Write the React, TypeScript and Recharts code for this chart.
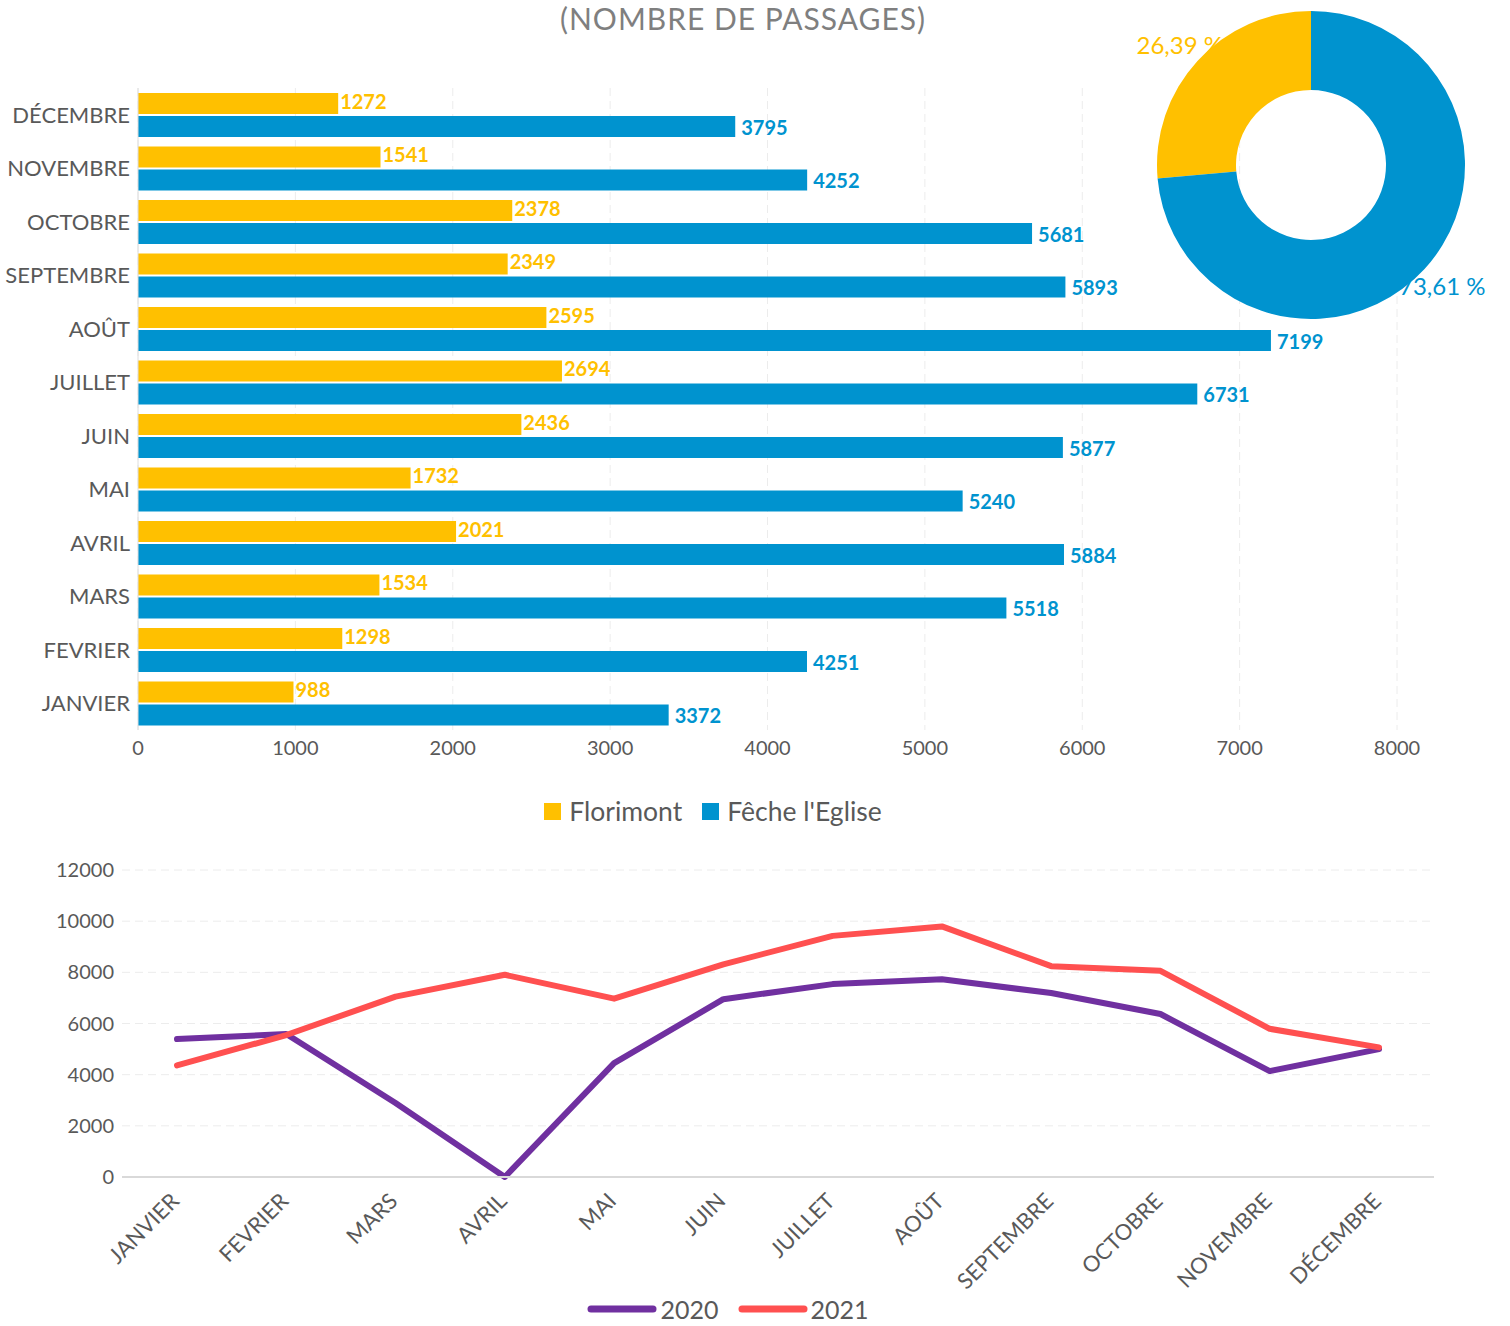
import React from 'react';
import {
  BarChart,
  Bar,
  XAxis,
  YAxis,
  CartesianGrid,
  LabelList,
  Legend,
  PieChart,
  Pie,
  Cell,
  LineChart,
  Line,
} from 'recharts';

const months = ['JANVIER', 'FEVRIER', 'MARS', 'AVRIL', 'MAI', 'JUIN', 'JUILLET', 'AOÛT', 'SEPTEMBRE', 'OCTOBRE', 'NOVEMBRE', 'DÉCEMBRE'];
const florimont = [988, 1298, 1534, 2021, 1732, 2436, 2694, 2595, 2349, 2378, 1541, 1272];
const feche = [3372, 4251, 5518, 5884, 5240, 5877, 6731, 7199, 5893, 5681, 4252, 3795];
const passages2020 = [5390, 5590, 2890, 0, 4450, 6950, 7540, 7730, 7190, 6370, 4140, 5000];
const passages2021 = [4360, 5549, 7052, 7905, 6972, 8313, 9425, 9794, 8242, 8059, 5793, 5067];
const sites = ['Florimont', "Fêche l'Eglise"];
const shares = [26.39, 73.61];
const shareLabels = ['26,39 %', '73,61 %'];
const years = ['2020', '2021'];
const barTicks = [0, 1000, 2000, 3000, 4000, 5000, 6000, 7000, 8000];
const lineTicks = [0, 2000, 4000, 6000, 8000, 10000, 12000];

const YELLOW = '#FFC000';
const BLUE = '#0093CF';
const PURPLE = '#7030A0';
const RED = '#FF5050';
const GREY = '#595959';
const GRID = '#ececec';
const FONT = "Lato, 'Open Sans', sans-serif";

const barData = months.map((m, i) => ({ month: m, florimont: florimont[i], feche: feche[i] }));
const lineData = months.map((m, i) => ({ month: m, y2020: passages2020[i], y2021: passages2021[i] }));
const pieData = sites.map((s, i) => ({ name: s, value: shares[i] }));
const siteColors = [YELLOW, BLUE];
const yearColors = [PURPLE, RED];

const SiteLegend = () => (
  <div style={{ display: 'flex', justifyContent: 'center', alignItems: 'center', height: 32 }}>
    {sites.map((s, i) => (
      <span key={s} style={{ display: 'flex', alignItems: 'center', marginRight: i === 0 ? 20 : 0 }}>
        <span style={{ width: 17, height: 17, background: siteColors[i], marginRight: 8 }} />
        <span style={{ fontSize: 26.5, color: GREY }}>{s}</span>
      </span>
    ))}
  </div>
);

const YearLegend = () => (
  <div style={{ display: 'flex', justifyContent: 'center', alignItems: 'center', height: 30 }}>
    {years.map((y, i) => (
      <span key={y} style={{ display: 'flex', alignItems: 'center', marginRight: i === 0 ? 18 : 0 }}>
        <svg width={72} height={12}>
          <line x1={5} y1={6} x2={67} y2={6} stroke={yearColors[i]} strokeWidth={7} strokeLinecap="round" />
        </svg>
        <span style={{ fontSize: 25, lineHeight: '30px', color: GREY, marginLeft: 2 }}>{y}</span>
      </span>
    ))}
  </div>
);

const RotatedTick = (props: any) => {
  const { x, y, payload } = props;
  return (
    <g transform={`translate(${x - 2},${y + 12})`}>
      <text x={0} y={0} dy="0.35em" textAnchor="end" transform="rotate(-45)" fill={GREY} fontSize={22}>
        {payload.value}
      </text>
    </g>
  );
};

const valueLabel = (color: string, gap: number, shift: number) => (props: any) => {
  const { x, y, width, height, value } = props;
  return (
    <text
      x={x + width + gap}
      y={y + height / 2 + shift}
      fill={color}
      fontSize={20}
      fontWeight={700}
      dominantBaseline="central"
    >
      {value}
    </text>
  );
};

const renderShare = (props: any) => {
  const { cx, cy, midAngle, outerRadius, index } = props;
  const RAD = Math.PI / 180;
  const r = outerRadius + 24;
  const x = cx + r * Math.cos(-midAngle * RAD);
  const y = cy + r * Math.sin(-midAngle * RAD);
  return (
    <text x={x} y={y} fill={siteColors[index]} textAnchor="middle" dominantBaseline="central" fontSize={24}>
      {shareLabels[index]}
    </text>
  );
};

export default function App() {
  return (
    <div style={{ position: 'absolute', left: 0, top: 0, width: 1510, height: 1326, background: '#fff', fontFamily: FONT, overflow: 'hidden' }}>
      <div style={{ position: 'absolute', left: 0, top: 0, width: 1486, textAlign: 'center', fontSize: 30, lineHeight: '36px', letterSpacing: 1, color: '#7f7f7f' }}>
        (NOMBRE DE PASSAGES)
      </div>

      <div style={{ position: 'absolute', left: 0, top: 0 }}>
        <BarChart
          width={1510}
          height={840}
          data={barData}
          layout="vertical"
          margin={{ top: 88, right: 113, left: 0, bottom: 38 }}
          barCategoryGap={5}
          barGap={2}
        >
          <CartesianGrid horizontal={false} stroke={GRID} strokeDasharray="8 5" />
          <XAxis
            type="number"
            domain={[0, 8000]}
            ticks={barTicks}
            interval={0}
            axisLine={false}
            tickLine={false}
            tickMargin={5}
            height={40}
            tick={{ fill: GREY, fontSize: 20 }}
          />
          <YAxis
            type="category"
            dataKey="month"
            reversed
            width={138}
            interval={0}
            axisLine={{ stroke: '#dedede' }}
            tickLine={false}
            tick={{ fill: GREY, fontSize: 22 }}
          />
          <Legend content={<SiteLegend />} wrapperStyle={{ left: 0, width: 1426, bottom: 13 }} />
          <Bar dataKey="florimont" fill={YELLOW} isAnimationActive={false}>
            <LabelList dataKey="florimont" content={valueLabel(YELLOW, 2, -3)} />
          </Bar>
          <Bar dataKey="feche" fill={BLUE} isAnimationActive={false}>
            <LabelList dataKey="feche" content={valueLabel(BLUE, 6, 0)} />
          </Bar>
        </BarChart>
      </div>

      <div style={{ position: 'absolute', left: 1111, top: -5 }}>
        <PieChart width={400} height={340} margin={{ top: 0, right: 0, bottom: 0, left: 0 }}>
          <Pie
            data={pieData}
            dataKey="value"
            cx={200}
            cy={170}
            innerRadius={75}
            outerRadius={154}
            startAngle={90}
            endAngle={450}
            stroke="none"
            labelLine={false}
            label={renderShare}
            isAnimationActive={false}
          >
            {pieData.map((d, i) => (
              <Cell key={d.name} fill={siteColors[i]} />
            ))}
          </Pie>
        </PieChart>
      </div>

      <div style={{ position: 'absolute', left: 0, top: 840 }}>
        <LineChart width={1510} height={486} data={lineData} margin={{ top: 30, right: 76, left: 0, bottom: 9 }}>
          <CartesianGrid vertical={false} stroke={GRID} strokeDasharray="8 5" />
          <XAxis
            dataKey="month"
            interval={0}
            padding={{ left: 55, right: 55 }}
            axisLine={{ stroke: '#d9d9d9', strokeWidth: 2 }}
            tickLine={false}
            height={110}
            tick={<RotatedTick />}
          />
          <YAxis
            domain={[0, 12000]}
            ticks={lineTicks}
            interval={0}
            width={122}
            axisLine={false}
            tickLine={false}
            tick={{ fill: GREY, fontSize: 20 }}
          />
          <Legend content={<YearLegend />} wrapperStyle={{ left: 0, width: 1455, bottom: 2 }} />
          <Line dataKey="y2020" stroke={PURPLE} strokeWidth={6} strokeLinecap="round" strokeLinejoin="round" dot={false} isAnimationActive={false} />
          <Line dataKey="y2021" stroke={RED} strokeWidth={6} strokeLinecap="round" strokeLinejoin="round" dot={false} isAnimationActive={false} />
        </LineChart>
      </div>
    </div>
  );
}
